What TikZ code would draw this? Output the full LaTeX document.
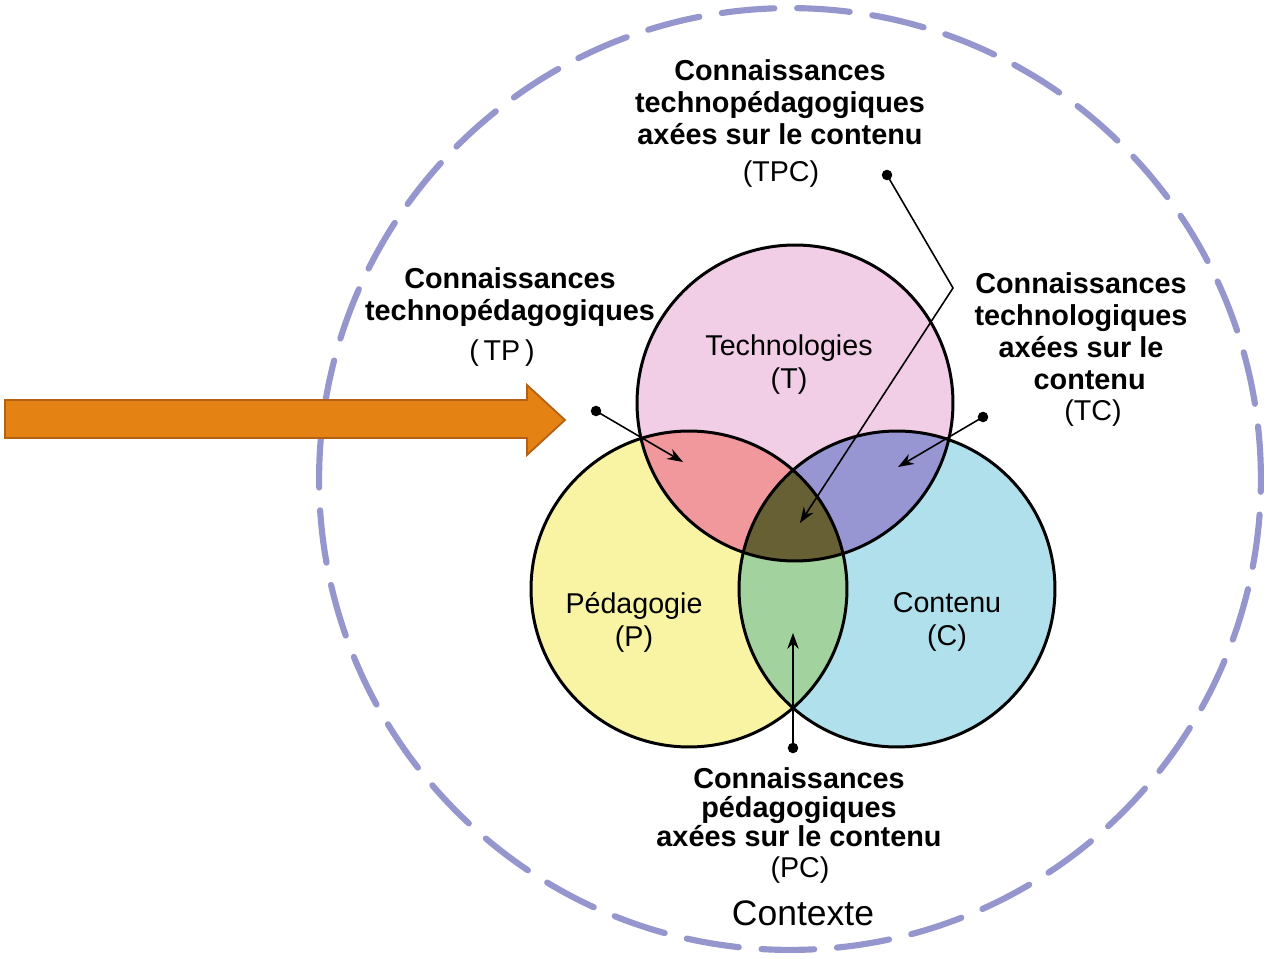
\documentclass[tikz,border=0pt]{standalone}
\usepackage{fontspec}
\setmainfont{Liberation Sans}
\usepackage{xcolor}
\usetikzlibrary{arrows.meta}
\definecolor{tech-pink}{RGB}{241,206,230}
\definecolor{peda-yellow}{RGB}{249,244,164}
\definecolor{cont-blue}{RGB}{176,224,236}
\definecolor{tp-red}{RGB}{240,152,156}
\definecolor{tc-violet}{RGB}{152,150,210}
\definecolor{pc-green}{RGB}{162,210,158}
\definecolor{tpc-olive}{RGB}{102,96,52}
\definecolor{context-lilac}{RGB}{150,150,206}
\definecolor{arrow-orange}{RGB}{228,130,20}
\definecolor{arrow-border}{RGB}{180,96,22}
\tikzset{
    set-outline/.style = {draw=black, line width=1.7pt},
    context-ring/.style = {draw=context-lilac, line width=3.5pt, line cap=round, dash pattern=on 30pt off 13pt},
    area-title/.style = {align=center, font=\fontsize{16.3}{18.8}\selectfont},
    knowledge-title/.style = {align=center, font=\bfseries\fontsize{16.4}{18.2}\selectfont},
    knowledge-code/.style = {font=\fontsize{16.3}{18.2}\selectfont},
    pointer/.style = {black, line width=0.9pt, -{Stealth[length=9pt,width=6.5pt]}},
    pin-dot/.style = {circle, fill=black, inner sep=0pt, minimum size=6pt},
}

\begin{document}
\begin{tikzpicture}[x=0.02cm, y=-0.02cm]
\useasboundingbox (0,0) rectangle (1265,959);
\coordinate (T) at (795,403);
\coordinate (P) at (689,589);
\coordinate (C) at (897,589);

% context
\draw[context-ring] (790,479) circle (9.42cm);

% three sets
\fill[tech-pink] (T) circle (3.16cm);
\fill[peda-yellow] (P) circle (3.16cm);
\fill[cont-blue] (C) circle (3.16cm);
\begin{scope}
    \clip (T) circle (3.16cm);
    \fill[tp-red] (P) circle (3.16cm);
    \fill[tc-violet] (C) circle (3.16cm);
    \clip (P) circle (3.16cm);
    \fill[tpc-olive] (C) circle (3.16cm);
\end{scope}
\begin{scope}
    \clip (P) circle (3.16cm);
    \clip (C) circle (3.16cm);
    \fill[pc-green] (C) circle (3.16cm);
    \clip (T) circle (3.16cm);
    \fill[tpc-olive] (C) circle (3.16cm);
\end{scope}
\draw[set-outline] (T) circle (3.16cm);
\draw[set-outline] (P) circle (3.16cm);
\draw[set-outline] (C) circle (3.16cm);

\node[area-title] (t-name) at (789,365) {Technologies\\(T)};
\node[area-title] (p-name) at (634,622) {Pédagogie\\(P)};
\node[area-title] (c-name) at (947,622) {Contenu\\(C)};
\node[area-title, font=\fontsize{20.2}{22}\selectfont] (context-name) at (803,913) {Contexte};

% labels
\node[knowledge-title] (tpc-label) at (780,102) {Connaissances\\technopédagogiques\\axées sur le contenu};
\node[knowledge-code] (tpc-code) at (781,174) {(TPC)};
\node[knowledge-title] (tp-label) at (510,297) {Connaissances\\technopédagogiques};
\node[knowledge-code] (tp-code) at (502,353) {(\,TP\,)};
\node[knowledge-title] (tc-label) at (1081,331) {Connaissances\\technologiques\\axées sur le\\\hspace*{0.6em}contenu};
\node[knowledge-code] (tc-code) at (1093,413) {(TC)};
\node[knowledge-title, font=\bfseries\fontsize{16.4}{16.6}\selectfont] (pc-label) at (799,807) {Connaissances\\pédagogiques\\axées sur le contenu};
\node[knowledge-code] (pc-code) at (800,870) {(PC)};

% pointers
\node[pin-dot] (tpc-dot) at (887,175) {};
\node[pin-dot] (tp-dot) at (596,411) {};
\node[pin-dot] (tc-dot) at (983,417) {};
\node[pin-dot] (pc-dot) at (793,748) {};
\coordinate (tpc-bend) at (953,288);
\coordinate (tpc-tip) at (800,523);
\coordinate (tp-tip) at (683,462);
\coordinate (tc-tip) at (898,467);
\coordinate (pc-tip) at (793,633);
\draw[pointer] (tpc-dot.center) -- (tpc-bend) -- (tpc-tip);
\draw[pointer] (tp-dot.center) -- (tp-tip);
\draw[pointer] (tc-dot.center) -- (tc-tip);
\draw[pointer] (pc-dot.center) -- (pc-tip);

% orange arrow
\draw[fill=arrow-orange, draw=arrow-border, line width=1pt, line join=miter]
    (5,400) -- (527,400) -- (527,385) -- (565,420) -- (527,455) -- (527,438) -- (5,438) -- cycle;
\end{tikzpicture}
\end{document}
